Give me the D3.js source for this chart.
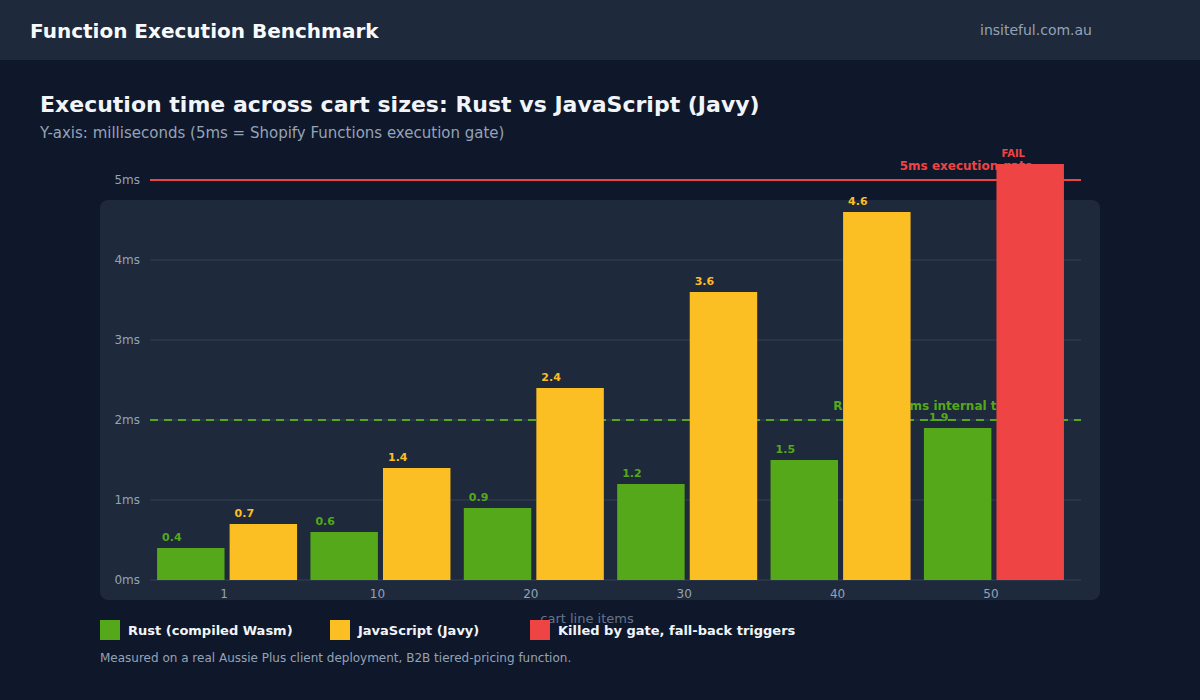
<!DOCTYPE html>
<html>
<head>
<meta charset="utf-8">
<script src="https://cdn.jsdelivr.net/npm/d3@7"></script>
<style>
  html, body { margin: 0; padding: 0; background: #0f172a; }
  svg { display: block; font-family: "DejaVu Sans", sans-serif; }
</style>
</head>
<body>
<div id="chart"></div>
<script>
// data
const cartSizes = ["1", "10", "20", "30", "40", "50"];
const rustMs = [0.4, 0.6, 0.9, 1.2, 1.5, 1.9];
const jsMs = [0.7, 1.4, 2.4, 3.6, 4.6, 5.2];
const yTicks = [0, 1, 2, 3, 4, 5];
const gateMs = 5;
const targetMs = 2;
const legendItems = ["Rust (compiled Wasm)", "JavaScript (Javy)", "Killed by gate, fall-back triggers"];

const width = 1200, height = 700;
const colors = { rust: "#54a819", js: "#fbbf24", fail: "#ef4444" };
const margin = { left: 150, right: 119, top: 180, bottom: 120 };

const svg = d3.select("#chart").append("svg")
    .attr("width", width)
    .attr("height", height);

svg.append("rect").attr("width", width).attr("height", height).attr("fill", "#0f172a");

// header bar
svg.append("rect").attr("width", width).attr("height", 60).attr("fill", "#1e293b");
svg.append("text")
    .attr("x", 30).attr("y", 38)
    .attr("fill", "#f8fafc").attr("font-size", "20px").attr("font-weight", "bold")
    .text("Function Execution Benchmark");
svg.append("text")
    .attr("x", 1092).attr("y", 35)
    .attr("text-anchor", "end")
    .attr("fill", "#94a3b8").attr("font-size", "14px")
    .text("insiteful.com.au");

// titles
svg.append("text")
    .attr("x", 40).attr("y", 112)
    .attr("fill", "#f1f5f9").attr("font-size", "22px").attr("font-weight", "bold")
    .text("Execution time across cart sizes: Rust vs JavaScript (Javy)");
svg.append("text")
    .attr("x", 40).attr("y", 138)
    .attr("fill", "#94a3b8").attr("font-size", "15px")
    .text("Y-axis: milliseconds (5ms = Shopify Functions execution gate)");

// panel
svg.append("rect")
    .attr("x", 100).attr("y", 200)
    .attr("width", 1000).attr("height", 400)
    .attr("rx", 8)
    .attr("fill", "#1e293b");

const plotRight = width - margin.right;
const y0 = height - margin.bottom;

const x0 = d3.scaleBand()
    .domain(cartSizes)
    .range([margin.left, plotRight - 10])
    .paddingInner(0.087)
    .paddingOuter(0.046);

const x1 = d3.scaleBand()
    .domain(["rust", "js"])
    .range([0, x0.bandwidth()])
    .paddingInner(0.07);

const y = d3.scaleLinear()
    .domain([0, gateMs])
    .range([y0, margin.top]);

// gridlines
svg.append("g")
    .selectAll("line")
    .data(yTicks.filter(d => d < gateMs))
    .join("line")
    .attr("x1", margin.left).attr("x2", plotRight)
    .attr("y1", d => y(d)).attr("y2", d => y(d))
    .attr("stroke", "#334155").attr("stroke-width", 1);

// y axis labels
const yAxis = svg.append("g")
    .attr("transform", `translate(${margin.left - 7},0)`)
    .call(d3.axisLeft(y).tickValues(yTicks).tickSize(0).tickFormat(d => d + "ms"));
yAxis.select(".domain").remove();
yAxis.selectAll("text")
    .attr("fill", "#94a3b8")
    .attr("font-size", "12px")
    .attr("font-family", "DejaVu Sans, sans-serif");

// x axis labels
const xAxis = svg.append("g")
    .attr("transform", `translate(-3,${y0 + 6})`)
    .call(d3.axisBottom(x0).tickSize(0));
xAxis.select(".domain").remove();
xAxis.selectAll("text")
    .attr("fill", "#94a3b8")
    .attr("font-size", "12px")
    .attr("font-family", "DejaVu Sans, sans-serif");

svg.append("text")
    .attr("x", 587).attr("y", 623)
    .attr("text-anchor", "middle")
    .attr("fill", "#64748b").attr("font-size", "13px")
    .text("cart line items");

// gate line (5ms)
svg.append("line")
    .attr("x1", margin.left).attr("x2", plotRight)
    .attr("y1", y(gateMs)).attr("y2", y(gateMs))
    .attr("stroke", colors.fail).attr("stroke-width", 2);
svg.append("text")
    .attr("x", plotRight - 48).attr("y", y(gateMs) - 10)
    .attr("text-anchor", "end")
    .attr("fill", colors.fail).attr("font-size", "12px").attr("font-weight", "bold")
    .text("5ms execution gate");

// internal target line (2ms)
svg.append("line")
    .attr("x1", margin.left).attr("x2", plotRight)
    .attr("y1", y(targetMs)).attr("y2", y(targetMs))
    .attr("stroke", colors.rust).attr("stroke-width", 2)
    .attr("stroke-dasharray", "8,6");
svg.append("text")
    .attr("x", plotRight - 48).attr("y", y(targetMs) - 10)
    .attr("text-anchor", "end")
    .attr("fill", colors.rust).attr("font-size", "12px").attr("font-weight", "bold")
    .text("Rust goal 2ms internal target");

// bars
const rows = cartSizes.map((c, i) => ({ cat: c, rust: rustMs[i], js: jsMs[i] }));

const groups = svg.append("g")
    .selectAll("g")
    .data(rows)
    .join("g")
    .attr("transform", d => `translate(${x0(d.cat)},0)`);

const bars = groups.selectAll("g")
    .data(d => [
        { key: "rust", value: d.rust, color: colors.rust, label: d3.format(".1f")(d.rust) },
        d.js > gateMs
            ? { key: "js", value: d.js, color: colors.fail, label: "FAIL" }
            : { key: "js", value: d.js, color: colors.js, label: d3.format(".1f")(d.js) }
    ])
    .join("g");

bars.append("rect")
    .attr("x", d => x1(d.key))
    .attr("y", d => y(d.value))
    .attr("width", x1.bandwidth())
    .attr("height", d => y0 - y(d.value))
    .attr("fill", d => d.color);

bars.append("text")
    .attr("x", d => x1(d.key) + 5)
    .attr("y", d => y(d.value) - 7)
    .attr("fill", d => d.color)
    .attr("font-size", d => d.label === "FAIL" ? "10px" : "11px")
    .attr("font-weight", "bold")
    .text(d => d.label);

// legend
const legendColors = [colors.rust, colors.js, colors.fail];
const legendX = [100, 330, 530];
const legend = svg.append("g")
    .selectAll("g")
    .data(legendItems)
    .join("g")
    .attr("transform", (d, i) => `translate(${legendX[i]},620)`);

legend.append("rect")
    .attr("width", 20).attr("height", 20)
    .attr("fill", (d, i) => legendColors[i]);

legend.append("text")
    .attr("x", 28).attr("y", 15)
    .attr("fill", "#f1f5f9").attr("font-size", "13px").attr("font-weight", "bold")
    .text(d => d);

svg.append("text")
    .attr("x", 100).attr("y", 662)
    .attr("fill", "#94a3b8").attr("font-size", "12px")
    .text("Measured on a real Aussie Plus client deployment, B2B tiered-pricing function.");
</script>
</body>
</html>
